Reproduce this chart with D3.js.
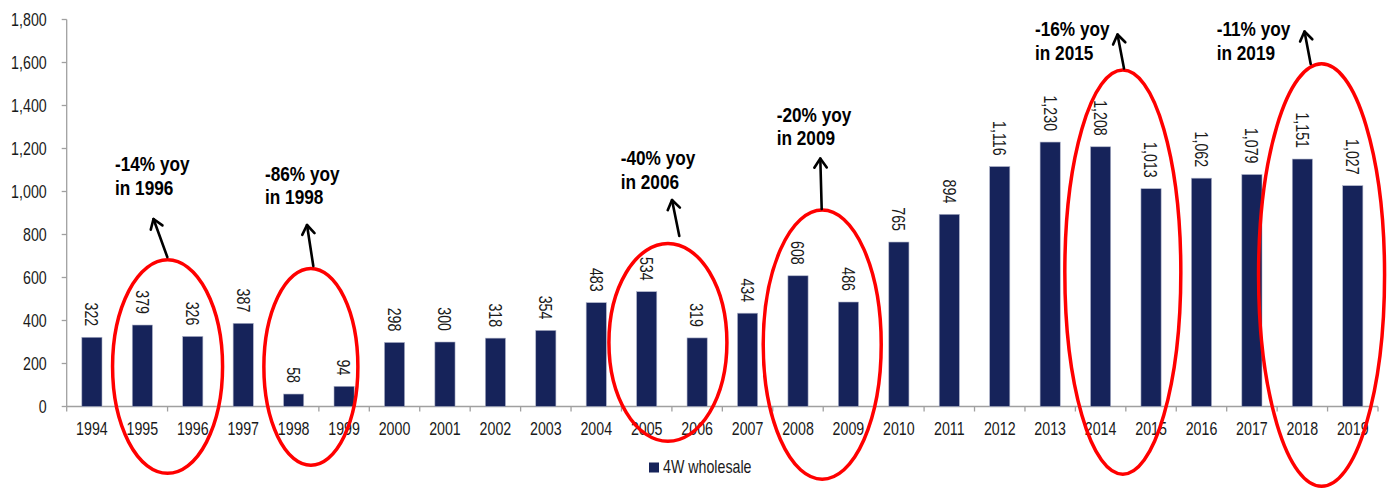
<!DOCTYPE html>
<html>
<head>
<meta charset="utf-8">
<script src="https://cdn.jsdelivr.net/npm/d3@7"></script>
<style>
  html, body { margin: 0; padding: 0; background: #fff; }
  svg { display: block; font-family: "Liberation Sans", Arial, sans-serif; }
</style>
</head>
<body>
<svg id="chart" width="1396" height="490"></svg>
<script>
// ---- data ----
const years = ["1994","1995","1996","1997","1998","1999","2000","2001","2002","2003","2004","2005","2006","2007","2008","2009","2010","2011","2012","2013","2014","2015","2016","2017","2018","2019"];
const wholesale = [322,379,326,387,58,94,298,300,318,354,483,534,319,434,608,486,765,894,1116,1230,1208,1013,1062,1079,1151,1027];
const yTicks = [0,200,400,600,800,1000,1200,1400,1600,1800];
const seriesName = "4W wholesale";
// annotations: year whose band's left edge is the ellipse centre, ellipse top/bottom in value units
const annLines1 = ["-14% yoy","-86% yoy","-40% yoy","-20% yoy","-16% yoy","-11% yoy"];
const annLines2 = ["in 1996","in 1998","in 2006","in 2009","in 2015","in 2019"];
const annYear = ["1996","1999","2006","2009","2015","2019"];
const annTop = [682, 642, 758, 914, 1565, 1594];
const annBottom = [-311, -273, -162, -338, -315, -371];

(function () {
// ---- layout ----
const svg = d3.select("#chart");
const pLeft = 66.7, pRight = 1378, pTop = 19.5, pBottom = 406.5;
const FS = 18, SX = 0.79;

const x = d3.scaleBand().domain(years).range([pLeft, pRight]).paddingInner(0.6).paddingOuter(0.3);
const xb = d3.scaleBand().domain(years).range([pLeft, pRight]);
const y = d3.scaleLinear().domain([0, 1800]).range([pBottom, pTop]);

const axisColor = "#a0a0a0";
const textColor = "#1a1a1a";
const barColor = "#16235a";

// y axis
svg.append("line").attr("x1", pLeft).attr("x2", pLeft).attr("y1", y(1800)).attr("y2", y(0))
  .attr("stroke", axisColor).attr("stroke-width", 1.3);
const yg = svg.append("g");
yTicks.forEach(t => {
  yg.append("line").attr("x1", pLeft - 5).attr("x2", pLeft).attr("y1", y(t)).attr("y2", y(t))
    .attr("stroke", axisColor).attr("stroke-width", 1.3);
  yg.append("text")
    .attr("transform", `translate(${pLeft - 20},${y(t)}) scale(${SX},1)`)
    .attr("text-anchor", "end").attr("dominant-baseline", "central")
    .attr("font-size", FS).attr("fill", textColor)
    .text(d3.format(",")(t));
});

// x axis
svg.append("line").attr("x1", pLeft).attr("x2", pRight).attr("y1", pBottom).attr("y2", pBottom)
  .attr("stroke", axisColor).attr("stroke-width", 1.3);
const xg = svg.append("g");
years.forEach((yr) => {
  xg.append("line").attr("x1", xb(yr)).attr("x2", xb(yr)).attr("y1", pBottom).attr("y2", pBottom + 5)
    .attr("stroke", axisColor).attr("stroke-width", 1.3);
  xg.append("text")
    .attr("transform", `translate(${xb(yr) + xb.bandwidth() / 2},${pBottom + 28.5}) scale(${SX},1)`)
    .attr("text-anchor", "middle").attr("font-size", FS).attr("fill", textColor)
    .text(yr);
});
xg.append("line").attr("x1", pRight).attr("x2", pRight).attr("y1", pBottom).attr("y2", pBottom + 5)
  .attr("stroke", axisColor).attr("stroke-width", 1.3);

// bars
svg.append("g").selectAll("rect").data(wholesale).join("rect")
  .attr("x", (d, i) => x(years[i]))
  .attr("width", x.bandwidth())
  .attr("y", d => y(d))
  .attr("height", d => y(0) - y(d))
  .attr("fill", barColor)
  .attr("stroke", "#aeb3c8").attr("stroke-width", 0.6);

// value labels (rotated)
svg.append("g").selectAll("text").data(wholesale).join("text")
  .attr("transform", (d, i) => `translate(${x(years[i]) + x.bandwidth() / 2},${y(d) - 11}) rotate(90) scale(${SX},1)`)
  .attr("text-anchor", "end").attr("dominant-baseline", "central")
  .attr("font-size", FS).attr("fill", textColor)
  .text(d => d3.format(",")(d));

// legend
svg.append("rect").attr("x", 649).attr("y", 462.5).attr("width", 10).attr("height", 10).attr("fill", barColor);
svg.append("text").attr("transform", `translate(663,472.5) scale(${SX},1)`)
  .attr("font-size", FS).attr("fill", textColor).text(seriesName);

// ellipses
const ellDx = [0, -8, -4, -1, -3, -6];
const ellRx = [55, 47, 59, 59, 58, 63];
const eg = svg.append("g");
annYear.forEach((yr, i) => {
  const cx = xb(yr) + ellDx[i];
  const yt = y(annTop[i]), ybm = y(annBottom[i]);
  eg.append("ellipse").attr("cx", cx).attr("cy", (yt + ybm) / 2)
    .attr("rx", ellRx[i]).attr("ry", (ybm - yt) / 2)
    .attr("fill", "none").attr("stroke", "#ff0000").attr("stroke-width", 3.5);
});

// arrows
const arrowFrom = [[167.3, 257], [313.3, 266], [679.3, 236], [821.7, 209], [1124, 68.5], [1310.7, 64]];
const arrowTo   = [[153.5, 219], [307, 225], [672, 200], [820.3, 158.5], [1117.5, 34.5], [1304.5, 31.5]];
const ag = svg.append("g").attr("stroke", "#000").attr("stroke-width", 2.6).attr("fill", "none")
  .attr("stroke-linecap", "round").attr("stroke-linejoin", "round");
arrowFrom.forEach((f, i) => {
  const t = arrowTo[i];
  ag.append("line").attr("x1", f[0]).attr("y1", f[1]).attr("x2", t[0]).attr("y2", t[1]);
  const ang = Math.atan2(f[1] - t[1], f[0] - t[0]);
  const L = 11, a = 0.6;
  const p1 = [t[0] + L * Math.cos(ang + a), t[1] + L * Math.sin(ang + a)];
  const p2 = [t[0] + L * Math.cos(ang - a), t[1] + L * Math.sin(ang - a)];
  ag.append("path").attr("d", `M${p1[0]},${p1[1]} L${t[0]},${t[1]} L${p2[0]},${p2[1]}`);
});

// annotation text
const annPos = [[115, 171], [265, 180.5], [620.7, 165], [776.7, 121.7], [1035, 36], [1216.7, 36]];
annPos.forEach((p, i) => {
  svg.append("text").attr("transform", `translate(${p[0]},${p[1]}) scale(0.82,1)`)
    .attr("font-size", 21).attr("font-weight", "bold").attr("fill", "#000").text(annLines1[i]);
  svg.append("text").attr("transform", `translate(${p[0]},${p[1] + 23.5}) scale(0.82,1)`)
    .attr("font-size", 21).attr("font-weight", "bold").attr("fill", "#000").text(annLines2[i]);
});
})();
</script>
</body>
</html>
